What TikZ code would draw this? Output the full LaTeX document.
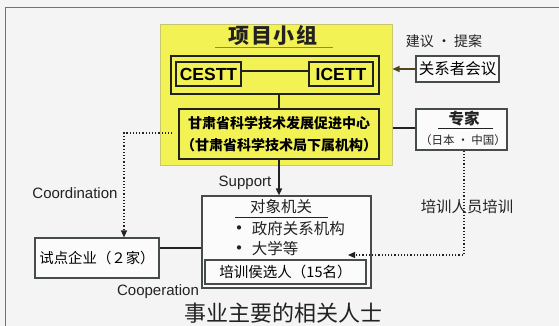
\documentclass[tikz,border=0pt]{standalone}
\usepackage{fontspec}
\setmainfont{Liberation Sans}
\newfontfamily\cjk{Noto Sans CJK SC}
\usetikzlibrary{arrows.meta,calc}
\definecolor{bg}{RGB}{244,244,244}
\definecolor{yel}{RGB}{243,242,85}
\definecolor{yedge}{RGB}{200,198,110}
\definecolor{ink}{RGB}{34,34,34}
\definecolor{boxline}{RGB}{70,75,75}
\definecolor{olive}{RGB}{80,70,30}
\definecolor{frame}{RGB}{110,115,120}
\tikzset{
  wbox/.style={draw=boxline, line width=1.1pt, inner sep=0pt, fill=white!60!bg},
  kbox/.style={draw=ink, line width=1.4pt, inner sep=0pt},
  conn/.style={draw=ink, line width=1.6pt},
  dots/.style={draw=ink, line width=1.2pt, dotted},
  tip/.style={-{Triangle[length=7pt,width=6pt]}},
  lbl/.style={inner sep=0pt, text=ink},
}
\newcommand{\bul}{{\fontsize{20}{15}\selectfont\raisebox{-1pt}{\textbullet}}\,}
\begin{document}
\begin{tikzpicture}[x=1pt,y=-1pt]
\useasboundingbox (0,0) rectangle (559,326);
\fill[bg] (0,0) rectangle (559,326);
\draw[frame, line width=1pt] (5,326) -- (5,8) -- (559,8);

% yellow group
\node[draw=yedge, fill=yel, line width=1pt, minimum width=232pt, minimum height=140pt, inner sep=0pt] (yellow) at (276,95) {};
\node[lbl, font=\cjk\bfseries\fontsize{21}{21}\selectfont\addfontfeatures{LetterSpace=8}] (title) at (273,35.5) {项目小组};
\coordinate (ul1) at (215,48);
\coordinate (ul2) at (333,48);
\draw[yedge!70!black, line width=1pt] (ul1) -- (ul2);
\node[kbox, minimum width=208pt, minimum height=38pt] (inner) at (275,75) {};
\node[kbox, line width=1.1pt, minimum width=65pt, minimum height=24pt, font=\bfseries\fontsize{17.5}{17.5}\selectfont] (cestt) at (208.5,74) {CESTT};
\node[kbox, line width=1.1pt, minimum width=64pt, minimum height=24pt, font=\bfseries\fontsize{17.5}{17.5}\selectfont] (icett) at (341,74) {ICETT};
\draw[conn, line width=1.3pt] ([yshift=3pt]cestt.east) -- ([yshift=3pt]icett.west);
\node[kbox, line width=1.2pt, minimum width=200pt, minimum height=50pt, align=center, font=\cjk\bfseries\fontsize{14}{22}\selectfont] (center) at (279,134) {甘肃省科学技术发展促进中心\\（甘肃省科学技术局下属机构）};
\draw[conn, line width=1.3pt] (inner.south -| center.north) -- (center.north);

% right side
\node[wbox, minimum width=83pt, minimum height=26pt, font=\cjk\fontsize{15.5}{15.5}\selectfont] (guanxi) at (457.5,69) {关系者会议};
\node[lbl, font=\cjk\fontsize{14}{14}\selectfont] (jianyi) at (444,41) {建议 · 提案};
\draw[olive, line width=1.3pt, tip] (guanxi.west) -- (guanxi.west -| yellow.east);
\node[wbox, minimum width=91pt, minimum height=41pt] (zhuanjia) at (461.5,129.5) {};
\node[lbl, font=\cjk\bfseries\fontsize{15.5}{15.5}\selectfont] (zj) at (464,118.5) {专家};
\draw[ink, line width=0.8pt] (438,128) -- (493,128);
\node[lbl, font=\cjk\fontsize{11.5}{11.5}\selectfont] (zjsub) at (463,140) {（日本 · 中国）};
\draw[conn] (yellow.east |- 0,128) -- (zhuanjia.west |- 0,128);

% object box
\node[wbox, minimum width=169pt, minimum height=92pt] (obj) at (286.5,242) {};
\node[lbl, font=\cjk\fontsize{15.5}{15.5}\selectfont] (objt) at (281,207) {对象机关};
\draw[ink, line width=0.8pt] (235,217) -- (328,217);
\node[lbl, anchor=west, font=\cjk\fontsize{15.5}{15.5}\selectfont] (b1) at (229,229) {\bul 政府关系机构};
\node[lbl, anchor=west, font=\cjk\fontsize{15.5}{15.5}\selectfont] (b2) at (229,249) {\bul 大学等};
\node[wbox, minimum width=161pt, minimum height=24pt, font=\cjk\fontsize{14.5}{14.5}\selectfont] (cand) at (285.5,272) {培训侯选人（15名）};
\draw[conn, tip] (center.south) -- (center.south |- obj.north);
\node[lbl, font=\fontsize{15}{15}\selectfont] (support) at (245,183) {Support};

% pilot enterprises
\node[wbox, minimum width=124pt, minimum height=40pt, font=\cjk\fontsize{14.4}{14.4}\selectfont] (shidian) at (97,258) {试点企业（２家）};
\draw[conn] (shidian.east |- 0,248) -- (obj.west |- 0,248);
\node[lbl, font=\fontsize{15}{15}\selectfont] (coord) at (75,193) {Coordination};
\node[lbl, font=\fontsize{15}{15}\selectfont] (coop) at (158,292) {Cooperation};
\coordinate (dl) at ($(center.west)+(-6,-1)$);
\draw[dots, tip] (dl) -| (shidian.north -| 124,0);

% training dotted
\coordinate (tr) at (348,255);
\draw[dots, tip] (zhuanjia.south -| 464,0) |- (tr);
\node[lbl, font=\cjk\fontsize{15.4}{15.4}\selectfont] (peixun) at (467,207) {培训人员培训};

\node[lbl, font=\cjk\fontsize{22}{22}\selectfont] (bottom) at (283,313) {事业主要的相关人士};
\end{tikzpicture}
\end{document}
